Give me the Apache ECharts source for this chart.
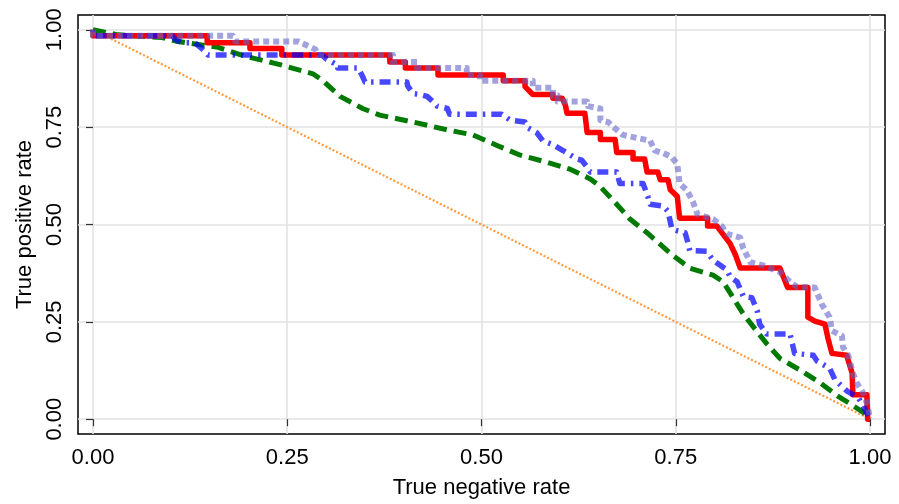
<!DOCTYPE html>
<html>
<head>
<meta charset="utf-8">
<script src="https://cdn.jsdelivr.net/npm/echarts@6/dist/echarts.min.js"></script>
<style>
  html, body { margin: 0; padding: 0; background: #fff; }
  #chart { width: 899px; height: 504px; }
</style>
</head>
<body>
<div id="chart"></div>
<script>
// Tick positions and their printed labels (shared by both axes)
const tickValues = [0, 0.25, 0.5, 0.75, 1];
const tickLabels = ['0.00', '0.25', '0.50', '0.75', '1.00'];

// Curves: [true negative rate, true positive rate]
const chanceLine = [[0, 1], [1, 0]];

const greenCurve = [
  [0, 1], [0.032, 0.987], [0.089, 0.980], [0.109, 0.970], [0.161, 0.955], [0.196, 0.932],
  [0.238, 0.912], [0.283, 0.887], [0.296, 0.869], [0.318, 0.829], [0.347, 0.798], [0.369, 0.781],
  [0.412, 0.763], [0.456, 0.743], [0.489, 0.730], [0.520, 0.703], [0.550, 0.678], [0.584, 0.660],
  [0.614, 0.642], [0.640, 0.617], [0.653, 0.597], [0.674, 0.552], [0.691, 0.514], [0.713, 0.479],
  [0.746, 0.421], [0.768, 0.388], [0.798, 0.370], [0.811, 0.353], [0.837, 0.270], [0.855, 0.224],
  [0.867, 0.194], [0.884, 0.156], [0.910, 0.126], [0.936, 0.093], [0.958, 0.060], [0.978, 0.035],
  [0.991, 0.018], [1, 0]
];

const blueCurve = [
  [0, 1], [0, 0.985], [0.102, 0.985], [0.106, 0.975], [0.115, 0.967], [0.131, 0.967],
  [0.144, 0.945], [0.148, 0.935], [0.295, 0.935], [0.301, 0.924], [0.315, 0.909], [0.315, 0.902],
  [0.341, 0.902], [0.346, 0.884], [0.350, 0.866], [0.404, 0.866], [0.405, 0.856], [0.412, 0.836],
  [0.421, 0.834], [0.430, 0.829], [0.440, 0.811], [0.443, 0.804], [0.456, 0.798], [0.459, 0.783],
  [0.526, 0.783], [0.537, 0.768], [0.556, 0.763], [0.560, 0.748], [0.571, 0.736], [0.579, 0.715],
  [0.592, 0.705], [0.605, 0.690], [0.623, 0.668], [0.629, 0.665], [0.636, 0.647], [0.640, 0.635],
  [0.674, 0.635], [0.678, 0.605], [0.708, 0.605], [0.714, 0.572], [0.717, 0.552], [0.734, 0.547],
  [0.740, 0.534], [0.745, 0.489], [0.752, 0.484], [0.762, 0.479], [0.766, 0.451], [0.768, 0.433],
  [0.790, 0.431], [0.798, 0.408], [0.816, 0.383], [0.820, 0.365], [0.829, 0.353], [0.837, 0.315],
  [0.848, 0.312], [0.855, 0.277], [0.858, 0.244], [0.867, 0.219], [0.897, 0.219], [0.903, 0.169],
  [0.927, 0.164], [0.932, 0.149], [0.948, 0.131], [0.955, 0.101], [0.970, 0.073], [0.985, 0.055],
  [0.991, 0.035], [1, 0]
];

const redCurve = [
  [0, 1], [0, 0.985], [0.147, 0.985], [0.147, 0.967], [0.202, 0.967], [0.202, 0.952],
  [0.243, 0.952], [0.243, 0.935], [0.382, 0.935], [0.382, 0.917], [0.402, 0.917], [0.402, 0.902],
  [0.444, 0.902], [0.444, 0.884], [0.528, 0.884], [0.528, 0.869], [0.556, 0.869], [0.556, 0.854],
  [0.566, 0.834], [0.592, 0.834], [0.592, 0.824], [0.604, 0.824], [0.608, 0.806], [0.610, 0.786],
  [0.633, 0.786], [0.636, 0.736], [0.653, 0.736], [0.653, 0.718], [0.672, 0.718], [0.674, 0.685],
  [0.695, 0.685], [0.695, 0.668], [0.710, 0.668], [0.713, 0.635], [0.727, 0.635], [0.730, 0.615],
  [0.740, 0.615], [0.743, 0.589], [0.752, 0.572], [0.755, 0.516], [0.791, 0.516], [0.791, 0.496],
  [0.803, 0.496], [0.820, 0.451], [0.827, 0.421], [0.833, 0.388], [0.884, 0.388], [0.894, 0.338],
  [0.920, 0.338], [0.920, 0.262], [0.929, 0.252], [0.942, 0.244], [0.946, 0.207], [0.951, 0.169],
  [0.970, 0.164], [0.977, 0.118], [0.978, 0.063], [0.996, 0.063], [0.997, 0], [1, 0]
];

const lavenderCurve = [
  [0, 1], [0, 0.985], [0.180, 0.985], [0.183, 0.970], [0.264, 0.970], [0.286, 0.950],
  [0.290, 0.935], [0.386, 0.935], [0.386, 0.917], [0.417, 0.917], [0.417, 0.902], [0.481, 0.902],
  [0.481, 0.884], [0.498, 0.884], [0.498, 0.869], [0.566, 0.869], [0.566, 0.851], [0.592, 0.851],
  [0.592, 0.831], [0.598, 0.831], [0.598, 0.816], [0.636, 0.816], [0.637, 0.804], [0.653, 0.798],
  [0.653, 0.768], [0.663, 0.763], [0.674, 0.743], [0.682, 0.730], [0.717, 0.715], [0.723, 0.690],
  [0.734, 0.683], [0.745, 0.673], [0.752, 0.655], [0.755, 0.605], [0.764, 0.589], [0.772, 0.559],
  [0.778, 0.526], [0.798, 0.514], [0.809, 0.496], [0.816, 0.476], [0.833, 0.466], [0.837, 0.438],
  [0.846, 0.403], [0.862, 0.395], [0.884, 0.378], [0.897, 0.353], [0.906, 0.340], [0.929, 0.338],
  [0.938, 0.295], [0.948, 0.262], [0.951, 0.227], [0.964, 0.214], [0.965, 0.186], [0.972, 0.164],
  [0.978, 0.118], [0.983, 0.093], [0.991, 0.068], [0.997, 0.035], [1, 0]
];

const FONT = '"Liberation Sans", Arial, Helvetica, sans-serif';
const labelFor = v => tickLabels[tickValues.findIndex(t => Math.abs(t - v) < 1e-9)] || '';

function axisCommon() {
  return {
    type: 'value',
    axisLine: { show: false },
    axisTick: {
      show: true, inside: false, length: 7,
      customValues: tickValues,
      lineStyle: { color: '#333', width: 1.2 }
    },
    axisLabel: {
      customValues: tickValues,
      formatter: labelFor,
      color: '#000', fontSize: 22, fontFamily: FONT
    },
    splitLine: { show: true, lineStyle: { color: '#e2e2e2', width: 1.6 } },
    nameTextStyle: { color: '#000', fontSize: 22, fontFamily: FONT },
    nameLocation: 'middle'
  };
}

const xAxis = axisCommon();
Object.assign(xAxis, { min: -0.0193, max: 1.0193, name: 'True negative rate', nameGap: 43 });
xAxis.axisLabel.margin = 13;

const yAxis = axisCommon();
Object.assign(yAxis, { min: -0.038, max: 1.038, name: 'True positive rate', nameGap: 33 });
yAxis.axisLabel.rotate = 90;
yAxis.axisLabel.margin = 12;

function curve(data, color, width, dash, z) {
  return {
    type: 'line', data, z,
    symbol: 'none', showSymbol: false, animation: false,
    lineStyle: { color, width, type: dash, cap: 'butt', join: 'round' }
  };
}

const chart = echarts.init(document.getElementById('chart'), null, { renderer: 'canvas' });
chart.setOption({
  animation: false,
  backgroundColor: '#fff',
  grid: {
    left: 78, right: 14, top: 15, bottom: 62,
    show: true, borderColor: '#000', borderWidth: 1.5, backgroundColor: 'transparent'
  },
  xAxis, yAxis,
  series: [
    curve(chanceLine, '#ff9a3c', 2.2, [2, 2], 2),
    curve(greenCurve, '#007a00', 5, [13, 7], 3),
    curve(redCurve, '#ff0000', 5.5, 'solid', 4),
    curve(blueCurve, 'rgba(0,0,255,0.72)', 5.5, [2.5, 6, 11, 6], 5),
    curve(lavenderCurve, 'rgba(100,100,200,0.6)', 6, [6, 4], 6)
  ]
});
</script>
</body>
</html>
